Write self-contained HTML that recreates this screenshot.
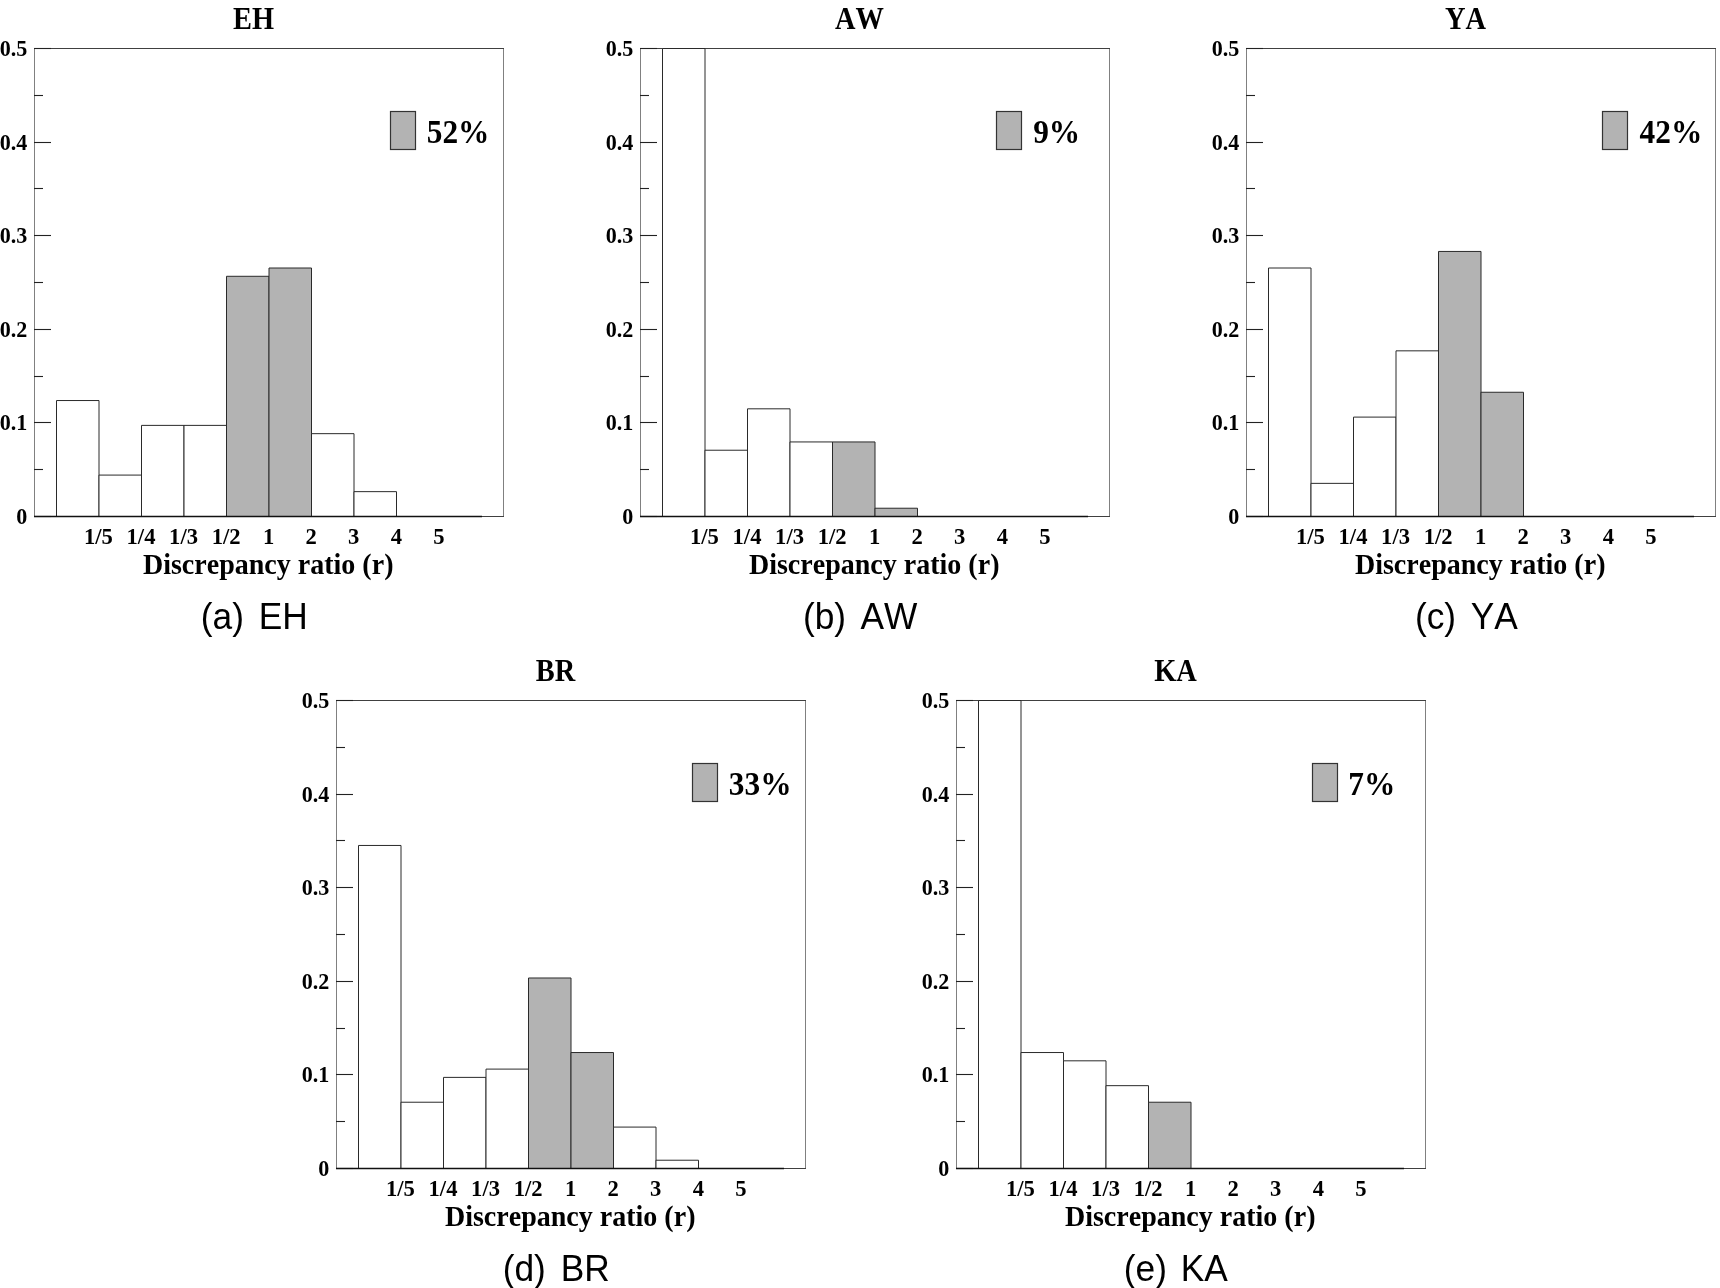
<!DOCTYPE html>
<html><head><meta charset="utf-8"><title>Discrepancy ratio histograms</title>
<style>
html,body{margin:0;padding:0;background:#fff;}
body{width:1720px;height:1288px;overflow:hidden;}
svg{display:block;will-change:transform;}
text{font-family:"Liberation Serif",serif;font-weight:bold;fill:#000;font-kerning:none;}
.cap{font-family:"Liberation Sans",sans-serif;font-weight:normal;fill:#000;}
</style></head><body>
<svg width="1720" height="1288" viewBox="0 0 1720 1288">
<rect width="1720" height="1288" fill="#fff"/>
<g transform="translate(0,0)">
<line x1="34.5" y1="48" x2="34.5" y2="517" stroke="#808080" stroke-width="1"/>
<line x1="503.5" y1="48" x2="503.5" y2="517" stroke="#808080" stroke-width="1"/>
<line x1="34" y1="48.5" x2="504" y2="48.5" stroke="#404040" stroke-width="1"/>
<line x1="34" y1="516.5" x2="504" y2="516.5" stroke="#404040" stroke-width="1"/>
<line x1="34" y1="516.5" x2="51" y2="516.5" stroke="#222" stroke-width="1.1"/>
<line x1="34" y1="469.5" x2="43" y2="469.5" stroke="#222" stroke-width="1.1"/>
<line x1="34" y1="422.5" x2="51" y2="422.5" stroke="#222" stroke-width="1.1"/>
<line x1="34" y1="376.5" x2="43" y2="376.5" stroke="#222" stroke-width="1.1"/>
<line x1="34" y1="329.5" x2="51" y2="329.5" stroke="#222" stroke-width="1.1"/>
<line x1="34" y1="282.5" x2="43" y2="282.5" stroke="#222" stroke-width="1.1"/>
<line x1="34" y1="235.5" x2="51" y2="235.5" stroke="#222" stroke-width="1.1"/>
<line x1="34" y1="188.5" x2="43" y2="188.5" stroke="#222" stroke-width="1.1"/>
<line x1="34" y1="142.5" x2="51" y2="142.5" stroke="#222" stroke-width="1.1"/>
<line x1="34" y1="95.5" x2="43" y2="95.5" stroke="#222" stroke-width="1.1"/>
<line x1="34" y1="48.5" x2="51" y2="48.5" stroke="#222" stroke-width="1.1"/>
<path d="M56.5 516.5 V400.54 H99 V516.5" fill="#ffffff" stroke="#2a2a2a" stroke-width="1"/>
<path d="M99 516.5 V475.08 H141.5 V516.5" fill="#ffffff" stroke="#2a2a2a" stroke-width="1"/>
<path d="M141.5 516.5 V425.38 H184 V516.5" fill="#ffffff" stroke="#2a2a2a" stroke-width="1"/>
<path d="M184 516.5 V425.38 H226.5 V516.5" fill="#ffffff" stroke="#2a2a2a" stroke-width="1"/>
<path d="M226.5 516.5 V276.29 H269 V516.5" fill="#b3b3b3" stroke="#2a2a2a" stroke-width="1"/>
<path d="M269 516.5 V268 H311.5 V516.5" fill="#b3b3b3" stroke="#2a2a2a" stroke-width="1"/>
<path d="M311.5 516.5 V433.67 H354 V516.5" fill="#ffffff" stroke="#2a2a2a" stroke-width="1"/>
<path d="M354 516.5 V491.65 H396.5 V516.5" fill="#ffffff" stroke="#2a2a2a" stroke-width="1"/>
<line x1="34" y1="516.5" x2="482" y2="516.5" stroke="#111" stroke-width="1.3"/>
<rect x="390.5" y="111.5" width="25" height="38" fill="#b3b3b3" stroke="#333" stroke-width="1.2"/>
<text transform="translate(426.75,143.2) scale(0.92,1)" class="leg" style="font-size:34.1px">52%</text>
<text transform="translate(27.28,524) scale(0.96,1)" text-anchor="end" style="font-size:23.0px">0</text>
<text transform="translate(27.28,430) scale(0.96,1)" text-anchor="end" style="font-size:23.0px">0.1</text>
<text transform="translate(27.28,337) scale(0.96,1)" text-anchor="end" style="font-size:23.0px">0.2</text>
<text transform="translate(27.28,243) scale(0.96,1)" text-anchor="end" style="font-size:23.0px">0.3</text>
<text transform="translate(27.28,150) scale(0.96,1)" text-anchor="end" style="font-size:23.0px">0.4</text>
<text transform="translate(27.28,56) scale(0.96,1)" text-anchor="end" style="font-size:23.0px">0.5</text>
<text transform="translate(98.45,543.8) scale(1.0,1)" text-anchor="middle" style="font-size:22.6px">1/5</text>
<text transform="translate(141,543.8) scale(1.0,1)" text-anchor="middle" style="font-size:22.6px">1/4</text>
<text transform="translate(183.55,543.8) scale(1.0,1)" text-anchor="middle" style="font-size:22.6px">1/3</text>
<text transform="translate(226.1,543.8) scale(1.0,1)" text-anchor="middle" style="font-size:22.6px">1/2</text>
<text transform="translate(268.65,543.8) scale(1.0,1)" text-anchor="middle" style="font-size:22.6px">1</text>
<text transform="translate(311.2,543.8) scale(1.0,1)" text-anchor="middle" style="font-size:22.6px">2</text>
<text transform="translate(353.75,543.8) scale(1.0,1)" text-anchor="middle" style="font-size:22.6px">3</text>
<text transform="translate(396.3,543.8) scale(1.0,1)" text-anchor="middle" style="font-size:22.6px">4</text>
<text transform="translate(438.85,543.8) scale(1.0,1)" text-anchor="middle" style="font-size:22.6px">5</text>
<text transform="translate(268.2,574.1) scale(0.95,1)" text-anchor="middle" style="font-size:29.5px">Discrepancy ratio (r)</text>
<text transform="translate(253.5,28.9) scale(0.925,1)" text-anchor="middle" style="font-size:30.7px">EH</text>
</g>
<g transform="translate(606,0)">
<line x1="34.5" y1="48" x2="34.5" y2="517" stroke="#808080" stroke-width="1"/>
<line x1="503.5" y1="48" x2="503.5" y2="517" stroke="#808080" stroke-width="1"/>
<line x1="34" y1="48.5" x2="504" y2="48.5" stroke="#404040" stroke-width="1"/>
<line x1="34" y1="516.5" x2="504" y2="516.5" stroke="#404040" stroke-width="1"/>
<line x1="34" y1="516.5" x2="51" y2="516.5" stroke="#222" stroke-width="1.1"/>
<line x1="34" y1="469.5" x2="43" y2="469.5" stroke="#222" stroke-width="1.1"/>
<line x1="34" y1="422.5" x2="51" y2="422.5" stroke="#222" stroke-width="1.1"/>
<line x1="34" y1="376.5" x2="43" y2="376.5" stroke="#222" stroke-width="1.1"/>
<line x1="34" y1="329.5" x2="51" y2="329.5" stroke="#222" stroke-width="1.1"/>
<line x1="34" y1="282.5" x2="43" y2="282.5" stroke="#222" stroke-width="1.1"/>
<line x1="34" y1="235.5" x2="51" y2="235.5" stroke="#222" stroke-width="1.1"/>
<line x1="34" y1="188.5" x2="43" y2="188.5" stroke="#222" stroke-width="1.1"/>
<line x1="34" y1="142.5" x2="51" y2="142.5" stroke="#222" stroke-width="1.1"/>
<line x1="34" y1="95.5" x2="43" y2="95.5" stroke="#222" stroke-width="1.1"/>
<line x1="34" y1="48.5" x2="51" y2="48.5" stroke="#222" stroke-width="1.1"/>
<path d="M56.5 516.5 V48.5 H99 V516.5" fill="#ffffff" stroke="#2a2a2a" stroke-width="1"/>
<path d="M99 516.5 V450.23 H141.5 V516.5" fill="#ffffff" stroke="#2a2a2a" stroke-width="1"/>
<path d="M141.5 516.5 V408.82 H184 V516.5" fill="#ffffff" stroke="#2a2a2a" stroke-width="1"/>
<path d="M184 516.5 V441.95 H226.5 V516.5" fill="#ffffff" stroke="#2a2a2a" stroke-width="1"/>
<path d="M226.5 516.5 V441.95 H269 V516.5" fill="#b3b3b3" stroke="#2a2a2a" stroke-width="1"/>
<path d="M269 516.5 V508.22 H311.5 V516.5" fill="#b3b3b3" stroke="#2a2a2a" stroke-width="1"/>
<line x1="34" y1="516.5" x2="482" y2="516.5" stroke="#111" stroke-width="1.3"/>
<rect x="390.5" y="111.5" width="25" height="38" fill="#b3b3b3" stroke="#333" stroke-width="1.2"/>
<text transform="translate(427.15,143.2) scale(0.92,1)" class="leg" style="font-size:34.1px">9%</text>
<text transform="translate(27.28,524) scale(0.96,1)" text-anchor="end" style="font-size:23.0px">0</text>
<text transform="translate(27.28,430) scale(0.96,1)" text-anchor="end" style="font-size:23.0px">0.1</text>
<text transform="translate(27.28,337) scale(0.96,1)" text-anchor="end" style="font-size:23.0px">0.2</text>
<text transform="translate(27.28,243) scale(0.96,1)" text-anchor="end" style="font-size:23.0px">0.3</text>
<text transform="translate(27.28,150) scale(0.96,1)" text-anchor="end" style="font-size:23.0px">0.4</text>
<text transform="translate(27.28,56) scale(0.96,1)" text-anchor="end" style="font-size:23.0px">0.5</text>
<text transform="translate(98.45,543.8) scale(1.0,1)" text-anchor="middle" style="font-size:22.6px">1/5</text>
<text transform="translate(141,543.8) scale(1.0,1)" text-anchor="middle" style="font-size:22.6px">1/4</text>
<text transform="translate(183.55,543.8) scale(1.0,1)" text-anchor="middle" style="font-size:22.6px">1/3</text>
<text transform="translate(226.1,543.8) scale(1.0,1)" text-anchor="middle" style="font-size:22.6px">1/2</text>
<text transform="translate(268.65,543.8) scale(1.0,1)" text-anchor="middle" style="font-size:22.6px">1</text>
<text transform="translate(311.2,543.8) scale(1.0,1)" text-anchor="middle" style="font-size:22.6px">2</text>
<text transform="translate(353.75,543.8) scale(1.0,1)" text-anchor="middle" style="font-size:22.6px">3</text>
<text transform="translate(396.3,543.8) scale(1.0,1)" text-anchor="middle" style="font-size:22.6px">4</text>
<text transform="translate(438.85,543.8) scale(1.0,1)" text-anchor="middle" style="font-size:22.6px">5</text>
<text transform="translate(268.2,574.1) scale(0.95,1)" text-anchor="middle" style="font-size:29.5px">Discrepancy ratio (r)</text>
<text transform="translate(253.5,28.9) scale(0.925,1)" text-anchor="middle" style="font-size:30.7px">AW</text>
</g>
<g transform="translate(1212,0)">
<line x1="34.5" y1="48" x2="34.5" y2="517" stroke="#808080" stroke-width="1"/>
<line x1="503.5" y1="48" x2="503.5" y2="517" stroke="#808080" stroke-width="1"/>
<line x1="34" y1="48.5" x2="504" y2="48.5" stroke="#404040" stroke-width="1"/>
<line x1="34" y1="516.5" x2="504" y2="516.5" stroke="#404040" stroke-width="1"/>
<line x1="34" y1="516.5" x2="51" y2="516.5" stroke="#222" stroke-width="1.1"/>
<line x1="34" y1="469.5" x2="43" y2="469.5" stroke="#222" stroke-width="1.1"/>
<line x1="34" y1="422.5" x2="51" y2="422.5" stroke="#222" stroke-width="1.1"/>
<line x1="34" y1="376.5" x2="43" y2="376.5" stroke="#222" stroke-width="1.1"/>
<line x1="34" y1="329.5" x2="51" y2="329.5" stroke="#222" stroke-width="1.1"/>
<line x1="34" y1="282.5" x2="43" y2="282.5" stroke="#222" stroke-width="1.1"/>
<line x1="34" y1="235.5" x2="51" y2="235.5" stroke="#222" stroke-width="1.1"/>
<line x1="34" y1="188.5" x2="43" y2="188.5" stroke="#222" stroke-width="1.1"/>
<line x1="34" y1="142.5" x2="51" y2="142.5" stroke="#222" stroke-width="1.1"/>
<line x1="34" y1="95.5" x2="43" y2="95.5" stroke="#222" stroke-width="1.1"/>
<line x1="34" y1="48.5" x2="51" y2="48.5" stroke="#222" stroke-width="1.1"/>
<path d="M56.5 516.5 V268 H99 V516.5" fill="#ffffff" stroke="#2a2a2a" stroke-width="1"/>
<path d="M99 516.5 V483.37 H141.5 V516.5" fill="#ffffff" stroke="#2a2a2a" stroke-width="1"/>
<path d="M141.5 516.5 V417.1 H184 V516.5" fill="#ffffff" stroke="#2a2a2a" stroke-width="1"/>
<path d="M184 516.5 V350.84 H226.5 V516.5" fill="#ffffff" stroke="#2a2a2a" stroke-width="1"/>
<path d="M226.5 516.5 V251.44 H269 V516.5" fill="#b3b3b3" stroke="#2a2a2a" stroke-width="1"/>
<path d="M269 516.5 V392.25 H311.5 V516.5" fill="#b3b3b3" stroke="#2a2a2a" stroke-width="1"/>
<line x1="34" y1="516.5" x2="482" y2="516.5" stroke="#111" stroke-width="1.3"/>
<rect x="390.5" y="111.5" width="25" height="38" fill="#b3b3b3" stroke="#333" stroke-width="1.2"/>
<text transform="translate(427.56,143.2) scale(0.92,1)" class="leg" style="font-size:34.1px">42%</text>
<text transform="translate(27.28,524) scale(0.96,1)" text-anchor="end" style="font-size:23.0px">0</text>
<text transform="translate(27.28,430) scale(0.96,1)" text-anchor="end" style="font-size:23.0px">0.1</text>
<text transform="translate(27.28,337) scale(0.96,1)" text-anchor="end" style="font-size:23.0px">0.2</text>
<text transform="translate(27.28,243) scale(0.96,1)" text-anchor="end" style="font-size:23.0px">0.3</text>
<text transform="translate(27.28,150) scale(0.96,1)" text-anchor="end" style="font-size:23.0px">0.4</text>
<text transform="translate(27.28,56) scale(0.96,1)" text-anchor="end" style="font-size:23.0px">0.5</text>
<text transform="translate(98.45,543.8) scale(1.0,1)" text-anchor="middle" style="font-size:22.6px">1/5</text>
<text transform="translate(141,543.8) scale(1.0,1)" text-anchor="middle" style="font-size:22.6px">1/4</text>
<text transform="translate(183.55,543.8) scale(1.0,1)" text-anchor="middle" style="font-size:22.6px">1/3</text>
<text transform="translate(226.1,543.8) scale(1.0,1)" text-anchor="middle" style="font-size:22.6px">1/2</text>
<text transform="translate(268.65,543.8) scale(1.0,1)" text-anchor="middle" style="font-size:22.6px">1</text>
<text transform="translate(311.2,543.8) scale(1.0,1)" text-anchor="middle" style="font-size:22.6px">2</text>
<text transform="translate(353.75,543.8) scale(1.0,1)" text-anchor="middle" style="font-size:22.6px">3</text>
<text transform="translate(396.3,543.8) scale(1.0,1)" text-anchor="middle" style="font-size:22.6px">4</text>
<text transform="translate(438.85,543.8) scale(1.0,1)" text-anchor="middle" style="font-size:22.6px">5</text>
<text transform="translate(268.2,574.1) scale(0.95,1)" text-anchor="middle" style="font-size:29.5px">Discrepancy ratio (r)</text>
<text transform="translate(253.5,28.9) scale(0.925,1)" text-anchor="middle" style="font-size:30.7px">YA</text>
</g>
<g transform="translate(302,652)">
<line x1="34.5" y1="48" x2="34.5" y2="517" stroke="#808080" stroke-width="1"/>
<line x1="503.5" y1="48" x2="503.5" y2="517" stroke="#808080" stroke-width="1"/>
<line x1="34" y1="48.5" x2="504" y2="48.5" stroke="#404040" stroke-width="1"/>
<line x1="34" y1="516.5" x2="504" y2="516.5" stroke="#404040" stroke-width="1"/>
<line x1="34" y1="516.5" x2="51" y2="516.5" stroke="#222" stroke-width="1.1"/>
<line x1="34" y1="469.5" x2="43" y2="469.5" stroke="#222" stroke-width="1.1"/>
<line x1="34" y1="422.5" x2="51" y2="422.5" stroke="#222" stroke-width="1.1"/>
<line x1="34" y1="376.5" x2="43" y2="376.5" stroke="#222" stroke-width="1.1"/>
<line x1="34" y1="329.5" x2="51" y2="329.5" stroke="#222" stroke-width="1.1"/>
<line x1="34" y1="282.5" x2="43" y2="282.5" stroke="#222" stroke-width="1.1"/>
<line x1="34" y1="235.5" x2="51" y2="235.5" stroke="#222" stroke-width="1.1"/>
<line x1="34" y1="188.5" x2="43" y2="188.5" stroke="#222" stroke-width="1.1"/>
<line x1="34" y1="142.5" x2="51" y2="142.5" stroke="#222" stroke-width="1.1"/>
<line x1="34" y1="95.5" x2="43" y2="95.5" stroke="#222" stroke-width="1.1"/>
<line x1="34" y1="48.5" x2="51" y2="48.5" stroke="#222" stroke-width="1.1"/>
<path d="M56.5 516.5 V193.46 H99 V516.5" fill="#ffffff" stroke="#2a2a2a" stroke-width="1"/>
<path d="M99 516.5 V450.23 H141.5 V516.5" fill="#ffffff" stroke="#2a2a2a" stroke-width="1"/>
<path d="M141.5 516.5 V425.38 H184 V516.5" fill="#ffffff" stroke="#2a2a2a" stroke-width="1"/>
<path d="M184 516.5 V417.1 H226.5 V516.5" fill="#ffffff" stroke="#2a2a2a" stroke-width="1"/>
<path d="M226.5 516.5 V325.99 H269 V516.5" fill="#b3b3b3" stroke="#2a2a2a" stroke-width="1"/>
<path d="M269 516.5 V400.54 H311.5 V516.5" fill="#b3b3b3" stroke="#2a2a2a" stroke-width="1"/>
<path d="M311.5 516.5 V475.08 H354 V516.5" fill="#ffffff" stroke="#2a2a2a" stroke-width="1"/>
<path d="M354 516.5 V508.22 H396.5 V516.5" fill="#ffffff" stroke="#2a2a2a" stroke-width="1"/>
<line x1="34" y1="516.5" x2="482" y2="516.5" stroke="#111" stroke-width="1.3"/>
<rect x="390.5" y="111.5" width="25" height="38" fill="#b3b3b3" stroke="#333" stroke-width="1.2"/>
<text transform="translate(426.81,143.2) scale(0.92,1)" class="leg" style="font-size:34.1px">33%</text>
<text transform="translate(27.28,524) scale(0.96,1)" text-anchor="end" style="font-size:23.0px">0</text>
<text transform="translate(27.28,430) scale(0.96,1)" text-anchor="end" style="font-size:23.0px">0.1</text>
<text transform="translate(27.28,337) scale(0.96,1)" text-anchor="end" style="font-size:23.0px">0.2</text>
<text transform="translate(27.28,243) scale(0.96,1)" text-anchor="end" style="font-size:23.0px">0.3</text>
<text transform="translate(27.28,150) scale(0.96,1)" text-anchor="end" style="font-size:23.0px">0.4</text>
<text transform="translate(27.28,56) scale(0.96,1)" text-anchor="end" style="font-size:23.0px">0.5</text>
<text transform="translate(98.45,543.8) scale(1.0,1)" text-anchor="middle" style="font-size:22.6px">1/5</text>
<text transform="translate(141,543.8) scale(1.0,1)" text-anchor="middle" style="font-size:22.6px">1/4</text>
<text transform="translate(183.55,543.8) scale(1.0,1)" text-anchor="middle" style="font-size:22.6px">1/3</text>
<text transform="translate(226.1,543.8) scale(1.0,1)" text-anchor="middle" style="font-size:22.6px">1/2</text>
<text transform="translate(268.65,543.8) scale(1.0,1)" text-anchor="middle" style="font-size:22.6px">1</text>
<text transform="translate(311.2,543.8) scale(1.0,1)" text-anchor="middle" style="font-size:22.6px">2</text>
<text transform="translate(353.75,543.8) scale(1.0,1)" text-anchor="middle" style="font-size:22.6px">3</text>
<text transform="translate(396.3,543.8) scale(1.0,1)" text-anchor="middle" style="font-size:22.6px">4</text>
<text transform="translate(438.85,543.8) scale(1.0,1)" text-anchor="middle" style="font-size:22.6px">5</text>
<text transform="translate(268.2,574.1) scale(0.95,1)" text-anchor="middle" style="font-size:29.5px">Discrepancy ratio (r)</text>
<text transform="translate(253.5,28.9) scale(0.925,1)" text-anchor="middle" style="font-size:30.7px">BR</text>
</g>
<g transform="translate(922,652)">
<line x1="34.5" y1="48" x2="34.5" y2="517" stroke="#808080" stroke-width="1"/>
<line x1="503.5" y1="48" x2="503.5" y2="517" stroke="#808080" stroke-width="1"/>
<line x1="34" y1="48.5" x2="504" y2="48.5" stroke="#404040" stroke-width="1"/>
<line x1="34" y1="516.5" x2="504" y2="516.5" stroke="#404040" stroke-width="1"/>
<line x1="34" y1="516.5" x2="51" y2="516.5" stroke="#222" stroke-width="1.1"/>
<line x1="34" y1="469.5" x2="43" y2="469.5" stroke="#222" stroke-width="1.1"/>
<line x1="34" y1="422.5" x2="51" y2="422.5" stroke="#222" stroke-width="1.1"/>
<line x1="34" y1="376.5" x2="43" y2="376.5" stroke="#222" stroke-width="1.1"/>
<line x1="34" y1="329.5" x2="51" y2="329.5" stroke="#222" stroke-width="1.1"/>
<line x1="34" y1="282.5" x2="43" y2="282.5" stroke="#222" stroke-width="1.1"/>
<line x1="34" y1="235.5" x2="51" y2="235.5" stroke="#222" stroke-width="1.1"/>
<line x1="34" y1="188.5" x2="43" y2="188.5" stroke="#222" stroke-width="1.1"/>
<line x1="34" y1="142.5" x2="51" y2="142.5" stroke="#222" stroke-width="1.1"/>
<line x1="34" y1="95.5" x2="43" y2="95.5" stroke="#222" stroke-width="1.1"/>
<line x1="34" y1="48.5" x2="51" y2="48.5" stroke="#222" stroke-width="1.1"/>
<path d="M56.5 516.5 V48.5 H99 V516.5" fill="#ffffff" stroke="#2a2a2a" stroke-width="1"/>
<path d="M99 516.5 V400.54 H141.5 V516.5" fill="#ffffff" stroke="#2a2a2a" stroke-width="1"/>
<path d="M141.5 516.5 V408.82 H184 V516.5" fill="#ffffff" stroke="#2a2a2a" stroke-width="1"/>
<path d="M184 516.5 V433.67 H226.5 V516.5" fill="#ffffff" stroke="#2a2a2a" stroke-width="1"/>
<path d="M226.5 516.5 V450.23 H269 V516.5" fill="#b3b3b3" stroke="#2a2a2a" stroke-width="1"/>
<line x1="34" y1="516.5" x2="482" y2="516.5" stroke="#111" stroke-width="1.3"/>
<rect x="390.5" y="111.5" width="25" height="38" fill="#b3b3b3" stroke="#333" stroke-width="1.2"/>
<text transform="translate(426.21,143.2) scale(0.92,1)" class="leg" style="font-size:34.1px">7%</text>
<text transform="translate(27.28,524) scale(0.96,1)" text-anchor="end" style="font-size:23.0px">0</text>
<text transform="translate(27.28,430) scale(0.96,1)" text-anchor="end" style="font-size:23.0px">0.1</text>
<text transform="translate(27.28,337) scale(0.96,1)" text-anchor="end" style="font-size:23.0px">0.2</text>
<text transform="translate(27.28,243) scale(0.96,1)" text-anchor="end" style="font-size:23.0px">0.3</text>
<text transform="translate(27.28,150) scale(0.96,1)" text-anchor="end" style="font-size:23.0px">0.4</text>
<text transform="translate(27.28,56) scale(0.96,1)" text-anchor="end" style="font-size:23.0px">0.5</text>
<text transform="translate(98.45,543.8) scale(1.0,1)" text-anchor="middle" style="font-size:22.6px">1/5</text>
<text transform="translate(141,543.8) scale(1.0,1)" text-anchor="middle" style="font-size:22.6px">1/4</text>
<text transform="translate(183.55,543.8) scale(1.0,1)" text-anchor="middle" style="font-size:22.6px">1/3</text>
<text transform="translate(226.1,543.8) scale(1.0,1)" text-anchor="middle" style="font-size:22.6px">1/2</text>
<text transform="translate(268.65,543.8) scale(1.0,1)" text-anchor="middle" style="font-size:22.6px">1</text>
<text transform="translate(311.2,543.8) scale(1.0,1)" text-anchor="middle" style="font-size:22.6px">2</text>
<text transform="translate(353.75,543.8) scale(1.0,1)" text-anchor="middle" style="font-size:22.6px">3</text>
<text transform="translate(396.3,543.8) scale(1.0,1)" text-anchor="middle" style="font-size:22.6px">4</text>
<text transform="translate(438.85,543.8) scale(1.0,1)" text-anchor="middle" style="font-size:22.6px">5</text>
<text transform="translate(268.2,574.1) scale(0.95,1)" text-anchor="middle" style="font-size:29.5px">Discrepancy ratio (r)</text>
<text transform="translate(253.5,28.9) scale(0.925,1)" text-anchor="middle" style="font-size:30.7px">KA</text>
</g>
<text class="cap" transform="translate(200.81,628.9) scale(0.955,1)" style="font-size:37.0px">(a)</text>
<text class="cap" transform="translate(258.7,628.9) scale(0.955,1)" style="font-size:37.0px">EH</text>
<text class="cap" transform="translate(802.91,628.9) scale(0.955,1)" style="font-size:37.0px">(b)</text>
<text class="cap" transform="translate(860.53,628.9) scale(0.955,1)" style="font-size:37.0px">AW</text>
<text class="cap" transform="translate(1414.91,628.9) scale(0.955,1)" style="font-size:37.0px">(c)</text>
<text class="cap" transform="translate(1470.82,628.9) scale(0.955,1)" style="font-size:37.0px">YA</text>
<text class="cap" transform="translate(502.71,1280.9) scale(0.955,1)" style="font-size:37.0px">(d)</text>
<text class="cap" transform="translate(560.8,1280.9) scale(0.955,1)" style="font-size:37.0px">BR</text>
<text class="cap" transform="translate(1123.81,1280.9) scale(0.955,1)" style="font-size:37.0px">(e)</text>
<text class="cap" transform="translate(1180.8,1280.9) scale(0.955,1)" style="font-size:37.0px">KA</text>
</svg>
</body></html>
